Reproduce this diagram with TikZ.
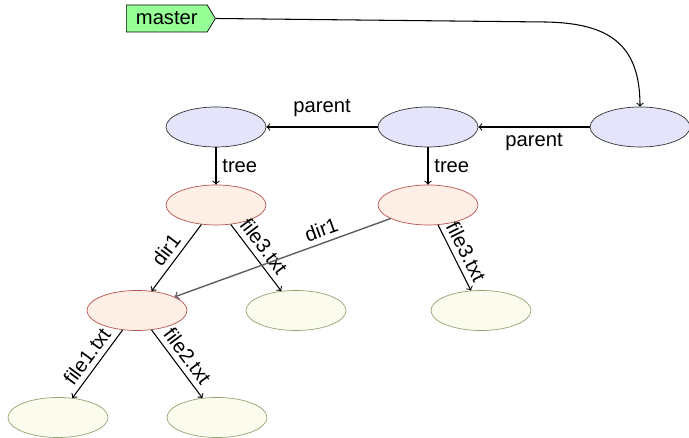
\documentclass[tikz,border=0pt]{standalone}
\usepackage{fontspec}
\setmainfont{Liberation Sans}
\usetikzlibrary{shapes.symbols,shapes.geometric}

\definecolor{commitfill}{RGB}{228,228,250}
\definecolor{treefill}{RGB}{253,239,230}
\definecolor{treeline}{RGB}{184,84,80}
\definecolor{filefill}{RGB}{252,252,238}
\definecolor{fileline}{RGB}{145,165,115}
\definecolor{branchfill}{RGB}{150,255,150}
\definecolor{shareline}{RGB}{95,95,95}

\begin{document}
\begin{tikzpicture}[
    font=\fontsize{11.5}{13}\selectfont,
    commit/.style={ellipse, draw=black!80, fill=commitfill, minimum width=2cm, minimum height=0.8cm, inner sep=0pt},
    treeobj/.style={ellipse, draw=treeline, fill=treefill, minimum width=2cm, minimum height=0.8cm, inner sep=0pt},
    blob/.style={ellipse, draw=fileline, fill=filefill, minimum width=2cm, minimum height=0.8cm, inner sep=0pt},
    branch/.style={signal, signal to=east, signal pointer angle=118, draw=black, fill=branchfill, minimum width=1.78cm, minimum height=0.54cm, inner sep=2pt},
    link/.style={->, line width=0.6pt},
    edgetext/.style={inner sep=3pt}
  ]
\useasboundingbox (0,0) rectangle (13.78,8.76);

	% commits
	\node[commit] (commitA) at (4.32,6.22) {};
	\node[commit] (commitB) at (8.56,6.22) {};
	\node[commit] (commitC) at (12.80,6.22) {};
	% trees
	\node[treeobj] (treeA) at (4.32,4.66) {};
	\node[treeobj] (treeB) at (8.56,4.66) {};
	\node[treeobj] (dirA) at (2.74,2.55) {};
	% blobs
	\node[blob] (fileThreeA) at (5.92,2.55) {};
	\node[blob] (fileThreeB) at (9.62,2.55) {};
	\node[blob] (fileOne) at (1.16,0.41) {};
	\node[blob] (fileTwo) at (4.34,0.41) {};

	% branch tag
	\node[branch, anchor=west] (master) at (2.52,8.39) {master};
	\coordinate (bend) at (10.90,8.32);
	\draw[link] (master.east) -- (bend) .. controls (12.20,8.30) and (12.80,7.86) .. (commitC.north);

	% parent links
	\draw[link] (commitB) -- node[above=2pt] {parent} (commitA);
	\draw[link] (commitC) -- node[below] {parent} (commitB);

	% tree links
	\draw[link] (commitA) -- node[right] {tree} (treeA);
	\draw[link] (commitB) -- node[right] {tree} (treeB);

	% entries of the first tree
	\draw[link] (treeA) -- node[edgetext, sloped, above] {dir1} (dirA);
	\draw[link] (treeA) -- node[edgetext, sloped, above, pos=0.45] {file3.txt} (fileThreeA);
	% entries of the second tree
	\draw[->, line width=0.8pt, shareline] (treeB) -- node[edgetext, sloped, above, pos=0.3, black] {dir1} (dirA);
	\draw[link] (treeB) -- node[edgetext, sloped, above] {file3.txt} (fileThreeB);
	% entries of dir1
	\draw[link] (dirA) -- node[edgetext, sloped, above] {file1.txt} (fileOne);
	\draw[link] (dirA) -- node[edgetext, sloped, above] {file2.txt} (fileTwo);

\end{tikzpicture}
\end{document}
